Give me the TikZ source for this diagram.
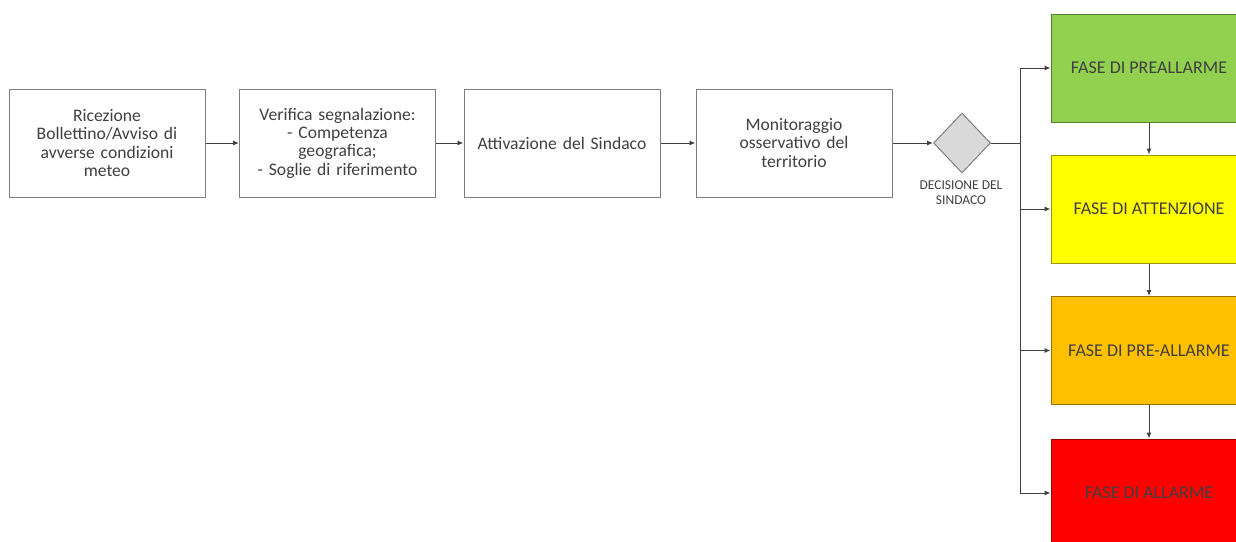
\documentclass[tikz,border=0pt]{standalone}
\usepackage{fontspec}
\setmainfont{Carlito}
\usetikzlibrary{shapes.geometric,arrows.meta}
\definecolor{boxline}{HTML}{7F7F7F}
\definecolor{txt}{HTML}{404040}
\definecolor{fgreen}{HTML}{92D050}
\definecolor{fyellow}{HTML}{FFFF00}
\definecolor{forange}{HTML}{FFC000}
\definecolor{fred}{HTML}{FF0000}
\definecolor{dgray}{HTML}{D9D9D9}
\begin{document}
\begin{tikzpicture}[x=1pt,y=-1pt,
  stepbox/.style={draw=boxline,line width=1pt,fill=white,minimum width=196pt,minimum height=108pt,
    text width=192pt,align=center,inner sep=0pt,text=txt,font=\fontsize{17.6}{18.4}\selectfont},
  phase/.style={draw=#1!60!black,line width=1pt,fill=#1,minimum width=196pt,minimum height=108pt,
    inner sep=0pt,text=black!75,font=\fontsize{18}{20}\selectfont},
  conn/.style={draw=black!75,line width=1pt,-{Latex[length=6pt,width=5pt]}},
  plain/.style={draw=black!75,line width=1pt}]
\useasboundingbox (0,0) rectangle (1236,541);
\clip (0,0) rectangle (1236,541);
\node[stepbox] (b1) at (107,143) {Ricezione\\Bollettino/Avviso di\\avverse condizioni\\meteo};
\node[stepbox] (b2) at (337.5,143) {Verifica segnalazione:\\- Competenza\\geografica;\\- Soglie di riferimento};
\node[stepbox] (b3) at (562,143) {Attivazione del Sindaco};
\node[stepbox] (b4) at (794,143) {Monitoraggio\\osservativo del\\territorio};
\node[diamond,draw=boxline,line width=1pt,fill=dgray,minimum width=57pt,minimum height=60pt,inner sep=0pt] (d) at (962,143) {};
\node[text=txt,font=\fontsize{13.5}{15}\selectfont,align=center] (dl) at (961,193) {DECISIONE DEL\\SINDACO};
\node[phase=fgreen] (p1) at (1149,68) {FASE DI PREALLARME};
\node[phase=fyellow] (p2) at (1149,209) {FASE DI ATTENZIONE};
\node[phase=forange] (p3) at (1149,350.5) {FASE DI PRE-ALLARME};
\node[phase=fred] (p4) at (1149,493) {FASE DI ALLARME};
\coordinate (j) at (1020,143);
\draw[conn] (b1) -- (b2);
\draw[conn] (b2) -- (b3);
\draw[conn] (b3) -- (b4);
\draw[conn] (b4) -- (d);
\draw[plain] (d) -- (j);
\draw[plain] (j |- p1.west) -- (j |- p4.west);
\draw[conn] (j |- p1.west) -- (p1.west);
\draw[conn] (j |- p2.west) -- (p2.west);
\draw[conn] (j |- p3.west) -- (p3.west);
\draw[conn] (j |- p4.west) -- (p4.west);
\draw[conn] (p1) -- (p2);
\draw[conn] (p2) -- (p3);
\draw[conn] (p3) -- (p4);
\end{tikzpicture}
\end{document}
